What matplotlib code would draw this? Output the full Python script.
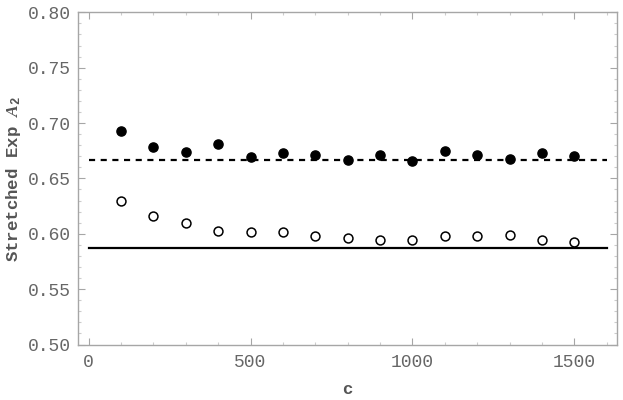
import matplotlib
matplotlib.use("Agg")
import matplotlib.pyplot as plt
from matplotlib.ticker import MultipleLocator

plt.rcParams['mathtext.fontset'] = 'custom'
plt.rcParams['mathtext.it'] = 'Liberation Serif:italic:bold'
plt.rcParams['mathtext.rm'] = 'Liberation Mono:bold'

c_values = [100, 200, 300, 400, 500, 600, 700, 800, 900, 1000, 1100, 1200, 1300, 1400, 1500]
filled_A2 = [0.6929, 0.6785, 0.6743, 0.6812, 0.6697, 0.6728, 0.6709, 0.6670, 0.6712,
             0.6661, 0.6746, 0.6712, 0.6679, 0.6731, 0.6703]
open_A2 = [0.6300, 0.6158, 0.6101, 0.6022, 0.6013, 0.6019, 0.5983, 0.5962, 0.5941,
           0.5947, 0.5977, 0.5983, 0.5986, 0.5941, 0.5929]
line_x = [0, 1600]
dashed_level = 2.0 / 3.0
solid_level = 0.5875
x_ticks = [0, 500, 1000, 1500]
y_ticks = [0.50, 0.55, 0.60, 0.65, 0.70, 0.75, 0.80]

fig = plt.figure(figsize=(6.23, 4.0), dpi=100)
ax = fig.add_axes([0.1257, 0.1387, 0.8647, 0.8305])

lw_d = 1.6
ax.plot(line_x, [dashed_level] * 2, color='black', lw=lw_d,
        linestyle=(0, (4.4 / lw_d, 4.0 / lw_d)), zorder=2)
ax.plot(line_x, [solid_level] * 2, color='black', lw=1.6, zorder=2)

ax.plot(c_values, filled_A2, 'o', color='black', ms=6.6, zorder=3)
ax.plot(c_values, open_A2, 'o', mfc='white', mec='black', mew=1.1, ms=6.4, zorder=3)

ax.set_xlim(-32, 1632)
ax.set_ylim(0.50, 0.80)
ax.set_xticks(x_ticks)
ax.set_yticks(y_ticks)
ax.set_xticklabels([str(v) for v in x_ticks])
ax.set_yticklabels([f"{v:.2f}" for v in y_ticks])
ax.xaxis.set_minor_locator(MultipleLocator(100))
ax.yaxis.set_minor_locator(MultipleLocator(0.01))

frame_col = '#a6a6a6'
for s in ax.spines.values():
    s.set_color(frame_col)
    s.set_linewidth(1.0)

ax.tick_params(which='both', direction='in', top=True, right=True, color=frame_col, width=0.8)
ax.tick_params(which='major', length=5)
ax.tick_params(which='minor', length=2.5, color='#cccccc')
ax.tick_params(axis='x', which='major', pad=7)
ax.tick_params(axis='y', which='major', pad=5)
for lab in ax.get_xticklabels() + ax.get_yticklabels():
    lab.set_fontfamily('Liberation Mono')
    lab.set_fontsize(13)
    lab.set_color('#666666')

ax.set_xlabel('c', fontfamily='Liberation Mono', fontweight='bold', fontsize=12.5,
              color='#555555', labelpad=8)
ax.set_ylabel(r'Stretched Exp $A_2$', fontfamily='Liberation Mono', fontweight='bold',
              fontsize=12.5, color='#555555', labelpad=4)

fig.savefig('out.png', dpi=100)
